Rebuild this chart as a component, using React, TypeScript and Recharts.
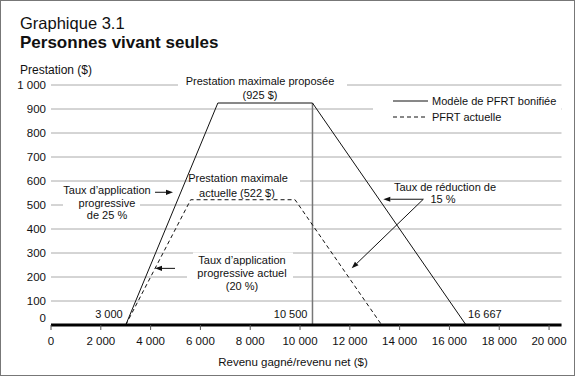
import React from 'react';
import {
  LineChart,
  Line,
  XAxis,
  YAxis,
  CartesianGrid,
  ReferenceLine,
  ReferenceDot,
} from 'recharts';

// ---------- data ----------
const proposedIncome = [3000, 6700, 10500, 16667];
const proposedBenefit = [0, 925, 925, 0];
const currentIncome = [3000, 5610, 9800, 13280];
const currentBenefit = [0, 522, 522, 0];
const xTicks = [0, 2000, 4000, 6000, 8000, 10000, 12000, 14000, 16000, 18000, 20000];
const yTicks = [0, 100, 200, 300, 400, 500, 600, 700, 800, 900, 1000];
const seriesNames = ['Modèle de PFRT bonifiée', 'PFRT actuelle'];
const maxProposed = 925;
const maxCurrent = 522;
const phaseInIncome = 3000;
const proposedPlateauEnd = 10500;
const proposedEnd = 16667;

const proposedData = proposedIncome.map((x, i) => ({ x, y: proposedBenefit[i] }));
const currentData = currentIncome.map((x, i) => ({ x, y: currentBenefit[i] }));

const FONT = '"Liberation Sans", Arial, Helvetica, sans-serif';

const fmt = (n: number): string => {
  if (n >= 1000) {
    return Math.floor(n / 1000) + ' ' + String(n % 1000).padStart(3, '0');
  }
  return String(n);
};

// ---------- annotations (anchor in data units, layout offsets in px) ----------
type AnnLine = { t: string; dx?: number; dy: number; box?: [number, number] };
type Ann = { x: number; y: number; anchor?: 'middle' | 'start' | 'end'; lines: AnnLine[] };

const annotations: Ann[] = [
  {
    x: 8393,
    y: 1017,
    lines: [
      { t: 'Prestation maximale proposée', dy: 0, box: [-82, 87] },
      { t: `(${maxProposed} $)`, dy: 14 },
    ],
  },
  {
    x: 7509,
    y: 612,
    lines: [
      { t: 'Prestation maximale', dy: 0, box: [-47, 62] },
      { t: `actuelle (${maxCurrent} $)`, dx: -1, dy: 15 },
    ],
  },
  {
    x: 2249,
    y: 562,
    lines: [
      { t: 'Taux d\u2019application', dy: 0 },
      { t: 'progressive', dy: 13, box: [-44, 33] },
      { t: 'de 25 %', dy: 25 },
    ],
  },
  {
    x: 7670,
    y: 271,
    lines: [
      { t: 'Taux d\u2019application', dy: 0, box: [-49, 51] },
      { t: 'progressive actuel', dy: 13, box: [-55, 51] },
      { t: '(20 %)', dy: 26 },
    ],
  },
  {
    x: 15822,
    y: 575,
    lines: [
      { t: 'Taux de réduction de', dy: 0 },
      { t: '15 %', dx: -2, dy: 12.5 },
    ],
  },
  { x: phaseInIncome, y: 0, anchor: 'end', lines: [{ t: fmt(phaseInIncome), dx: -3, dy: -11 }] },
  { x: proposedPlateauEnd, y: 0, anchor: 'end', lines: [{ t: fmt(proposedPlateauEnd), dx: -5, dy: -11 }] },
  { x: proposedEnd, y: 0, anchor: 'start', lines: [{ t: fmt(proposedEnd), dx: 2, dy: -11 }] },
];

type Arrow = { from: [number, number]; to: [number, number] };
const arrows: Arrow[] = [
  { from: [4177, 553], to: [4900, 553] },
  { from: [4980, 236], to: [4176, 236] },
  { from: [14951, 524], to: [13345, 524] },
  { from: [14951, 524], to: [12075, 236] },
];

const makeAnnShape = (a: Ann) => (props: any) => {
  const { cx, cy } = props;
  const anchor = a.anchor || 'middle';
  return (
    <g>
      {a.lines.map((l, i) => (
        <g key={i}>
          {l.box && (
            <rect
              x={cx + l.box[0]}
              y={cy + l.dy - 7.5}
              width={l.box[1] - l.box[0]}
              height={15}
              fill="#fff"
            />
          )}
          <text
            x={cx + (l.dx || 0)}
            y={cy + l.dy}
            dy="0.36em"
            textAnchor={anchor}
            fontSize={11}
            fontFamily={FONT}
            fill="#111"
          >
            {l.t}
          </text>
        </g>
      ))}
    </g>
  );
};

const ArrowShape = (props: any) => {
  const { x1, y1, x2, y2 } = props;
  const ang = Math.atan2(y2 - y1, x2 - x1);
  const L = 7;
  const W = 2.6;
  const bx = x2 - L * Math.cos(ang);
  const by = y2 - L * Math.sin(ang);
  const px = -Math.sin(ang) * W;
  const py = Math.cos(ang) * W;
  return (
    <g>
      <line x1={x1} y1={y1} x2={bx} y2={by} stroke="#111" strokeWidth={1} />
      <polygon
        points={`${x2},${y2} ${bx + px},${by + py} ${bx - px},${by - py}`}
        fill="#111"
      />
    </g>
  );
};

const YTick = (p: any) => (
  <text
    x={p.x}
    y={p.y + (p.payload.value === 0 ? -7 : 0)}
    dy="0.36em"
    textAnchor="end"
    fontSize={11.5}
    fontFamily={FONT}
    fill="#111"
  >
    {fmt(p.payload.value)}
  </text>
);

const XTick = (p: any) => (
  <text
    x={p.x}
    y={p.y}
    dy="0.71em"
    textAnchor="middle"
    fontSize={11.5}
    fontFamily={FONT}
    fill="#111"
  >
    {fmt(p.payload.value)}
  </text>
);

const LegendBox = () => (
  <div
    style={{
      position: 'absolute',
      left: 373,
      top: 91,
      width: 188,
      height: 36,
      background: '#fff',
      fontFamily: FONT,
      fontSize: 11,
      color: '#111',
    }}
  >
    {seriesNames.map((name, i) => (
      <div
        key={name}
        style={{ position: 'absolute', left: 20, top: i === 0 ? 3 : 19, height: 14, display: 'flex', alignItems: 'center', whiteSpace: 'nowrap' }}
      >
        <svg width={35} height={4} style={{ display: 'block' }}>
          <line
            x1={0}
            y1={2}
            x2={35}
            y2={2}
            stroke="#111"
            strokeWidth={1}
            strokeDasharray={i === 0 ? undefined : '4 3'}
          />
        </svg>
        <span style={{ marginLeft: 4 }}>{name}</span>
      </div>
    ))}
  </div>
);

export default function App() {
  return (
    <div style={{ position: 'absolute', left: 0, top: 0, width: 575, height: 376, background: '#fff', overflow: 'hidden' }}>
      <div style={{ position: 'absolute', left: 0, top: 0 }}>
        <LineChart width={575} height={376} margin={{ top: 85, right: 13.5, bottom: 11, left: 6 }}>
          <CartesianGrid horizontal vertical={false} stroke="#aaa" strokeWidth={1} />
          <XAxis
            dataKey="x"
            type="number"
            domain={[0, 20500]}
            ticks={xTicks}
            interval={0}
            allowDataOverflow
            height={40}
            tickSize={5}
            tickMargin={7}
            tick={XTick}
            axisLine={{ stroke: '#000', strokeWidth: 3 }}
            tickLine={{ stroke: '#555' }}
          />
          <YAxis
            type="number"
            domain={[0, 1000]}
            ticks={yTicks}
            interval={0}
            allowDataOverflow
            width={45}
            tickSize={0}
            tickMargin={5}
            axisLine={false}
            tickLine={false}
            tick={YTick}
          />
          <ReferenceLine
            segment={[{ x: proposedPlateauEnd, y: 0 }, { x: proposedPlateauEnd, y: maxProposed }]}
            stroke="#777"
            strokeWidth={1.5}
            ifOverflow="visible"
          />
          {annotations.map((a, i) => (
            <ReferenceDot key={'a' + i} x={a.x} y={a.y} r={1} ifOverflow="visible" shape={makeAnnShape(a)} />
          ))}
          {arrows.map((a, i) => (
            <ReferenceLine
              key={'r' + i}
              segment={[{ x: a.from[0], y: a.from[1] }, { x: a.to[0], y: a.to[1] }]}
              ifOverflow="visible"
              shape={ArrowShape}
            />
          ))}
          <Line
            data={currentData}
            dataKey="y"
            type="linear"
            stroke="#111"
            strokeWidth={1}
            strokeDasharray="4 3"
            dot={false}
            activeDot={false}
            isAnimationActive={false}
            name={seriesNames[1]}
          />
          <Line
            data={proposedData}
            dataKey="y"
            type="linear"
            stroke="#111"
            strokeWidth={1}
            dot={false}
            activeDot={false}
            isAnimationActive={false}
            name={seriesNames[0]}
          />
        </LineChart>
      </div>
      <LegendBox />
      <svg width={575} height={376} style={{ position: 'absolute', left: 0, top: 0, pointerEvents: 'none' }}>
        <text x={20} y={28.5} fontSize={16.5} fontFamily={FONT} fill="#111">Graphique 3.1</text>
        <text x={20} y={47.5} fontSize={17} fontWeight="bold" fontFamily={FONT} fill="#111">Personnes vivant seules</text>
        <text x={20} y={74} fontSize={12} fontFamily={FONT} fill="#111">Prestation ($)</text>
        <text x={293} y={366} fontSize={11.5} textAnchor="middle" fontFamily={FONT} fill="#111">Revenu gagné/revenu net ($)</text>
      </svg>
      <div style={{ position: 'absolute', left: 0, top: 0, width: 575, height: 376, boxSizing: 'border-box', border: '1px solid #777', pointerEvents: 'none' }} />
    </div>
  );
}
